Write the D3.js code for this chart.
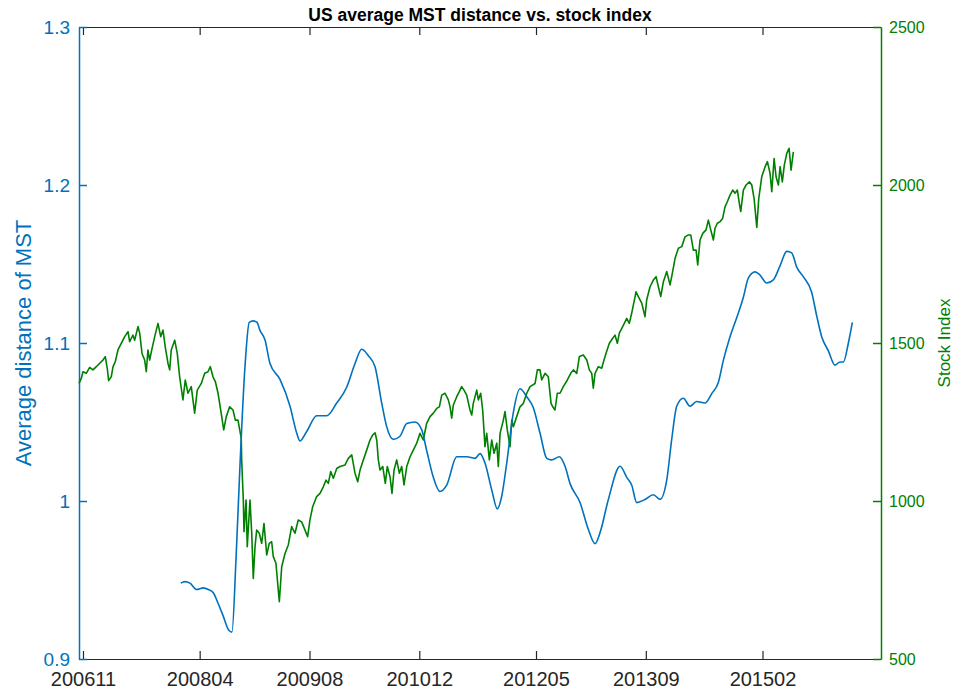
<!DOCTYPE html>
<html>
<head>
<meta charset="utf-8">
<script src="https://cdn.jsdelivr.net/npm/d3@7"></script>
<style>
  body { margin: 0; background: #fff; }
  svg text { font-family: "Liberation Sans", Arial, Helvetica, sans-serif; }
</style>
</head>
<body>
<svg id="chart"></svg>
<script>
// =====================================================
// Data (x in decimal years)
// =====================================================
const xTickLabels = ["200611", "200804", "200908", "201012", "201205", "201309", "201502"];
const leftTicks   = [0.9, 1.0, 1.1, 1.2, 1.3];
const rightTicks  = [500, 1000, 1500, 2000, 2500];

const stockDates = [
  // 2006-11 .. 2008-09
  2006.785, 2006.813, 2006.833, 2006.873, 2006.915, 2006.955, 2006.995, 2007.036, 2007.076, 2007.104,
  2007.128, 2007.145, 2007.177, 2007.198, 2007.226, 2007.258, 2007.298, 2007.340, 2007.380, 2007.400,
  2007.440, 2007.461, 2007.501, 2007.522, 2007.550, 2007.582, 2007.602, 2007.622, 2007.643, 2007.663,
  2007.704, 2007.744, 2007.777, 2007.805, 2007.832, 2007.865, 2007.886, 2007.905, 2007.947, 2007.978,
  2008.007, 2008.047, 2008.075, 2008.108, 2008.148, 2008.189, 2008.221, 2008.270, 2008.311, 2008.351,
  2008.379, 2008.412, 2008.440, 2008.473, 2008.505, 2008.542, 2008.573, 2008.614, 2008.655, 2008.683,
  2008.715, 2008.755,
  // 2008-10 .. 2011-11
  2008.760, 2008.780, 2008.788, 2008.813, 2008.828, 2008.861, 2008.882, 2008.901, 2008.922, 2008.942,
  2008.974, 2009.003, 2009.031, 2009.064, 2009.095, 2009.124, 2009.144, 2009.176, 2009.217, 2009.246,
  2009.286, 2009.326, 2009.367, 2009.407, 2009.447, 2009.488, 2009.529, 2009.561, 2009.589, 2009.622,
  2009.670, 2009.711, 2009.751, 2009.784, 2009.812, 2009.841, 2009.873, 2009.914, 2009.954, 2010.015,
  2010.055, 2010.096, 2010.136, 2010.169, 2010.197, 2010.237, 2010.278, 2010.318, 2010.351, 2010.379,
  2010.400, 2010.419, 2010.440, 2010.473, 2010.504, 2010.528, 2010.561, 2010.585, 2010.610, 2010.642,
  2010.674, 2010.703, 2010.731, 2010.764, 2010.804, 2010.844, 2010.885, 2010.925, 2010.965, 2011.006,
  2011.047, 2011.087, 2011.128, 2011.160, 2011.189, 2011.229, 2011.269, 2011.290, 2011.310, 2011.330,
  2011.371, 2011.402, 2011.431, 2011.459, 2011.492, 2011.532, 2011.553, 2011.572, 2011.614, 2011.633,
  2011.662, 2011.686, 2011.714, 2011.735, 2011.767, 2011.796, 2011.824, 2011.857, 2011.876,
  // 2011-11 .. 2015-06
  2011.897, 2011.937, 2011.957, 2011.985, 2012.018, 2012.039, 2012.058, 2012.099, 2012.139, 2012.180,
  2012.221, 2012.261, 2012.322, 2012.350, 2012.382, 2012.403, 2012.443, 2012.483, 2012.516, 2012.537,
  2012.564, 2012.592, 2012.625, 2012.665, 2012.714, 2012.755, 2012.787, 2012.828, 2012.860, 2012.908,
  2012.950, 2012.981, 2013.010, 2013.029, 2013.050, 2013.090, 2013.131, 2013.159, 2013.183, 2013.224,
  2013.265, 2013.293, 2013.321, 2013.345, 2013.386, 2013.435, 2013.466, 2013.495, 2013.548, 2013.576,
  2013.617, 2013.657, 2013.677, 2013.718, 2013.758, 2013.791, 2013.819, 2013.848, 2013.880, 2013.921,
  2013.961, 2013.989, 2014.022, 2014.062, 2014.103, 2014.143, 2014.183, 2014.212, 2014.244, 2014.277,
  2014.297, 2014.325, 2014.358, 2014.398, 2014.426, 2014.455, 2014.487, 2014.507, 2014.535, 2014.568,
  2014.600, 2014.628, 2014.656, 2014.689, 2014.722, 2014.750, 2014.778, 2014.802, 2014.819, 2014.851,
  2014.884, 2014.924, 2014.953, 2014.981, 2015.014, 2015.038, 2015.074, 2015.115, 2015.143, 2015.175,
  2015.196, 2015.224, 2015.248, 2015.276, 2015.297, 2015.324, 2015.348, 2015.378, 2015.406, 2015.430,
  2015.458
];
const stockValues = [
  1372, 1388, 1409, 1404, 1423, 1415, 1425, 1436, 1446, 1457,
  1420, 1381, 1393, 1425, 1441, 1478, 1499, 1520, 1536, 1504,
  1525, 1509, 1552, 1531, 1467, 1446, 1409, 1478, 1446, 1472,
  1520, 1562, 1520, 1541, 1488, 1436, 1415, 1478, 1509, 1467,
  1393, 1320, 1383, 1341, 1362, 1278, 1351, 1372, 1404, 1409,
  1425, 1393, 1378, 1341, 1288, 1225, 1267, 1298, 1288, 1256,
  1256, 1198,

  1130, 1003, 903, 1003, 855, 1003, 898, 755, 855, 908,
  898, 866, 929, 829, 866, 871, 824, 803, 681, 792,
  834, 861, 919, 898, 940, 934, 908, 887, 940, 982,
  1014, 1024, 1045, 1066, 1056, 1093, 1072, 1103, 1109, 1114,
  1135, 1146, 1088, 1061, 1098, 1130, 1161, 1193, 1209, 1216,
  1193, 1130, 1098, 1109, 1056, 1109, 1077, 1024, 1098, 1130,
  1088, 1109, 1051, 1109, 1140, 1161, 1183, 1214, 1193, 1246,
  1267, 1278, 1293, 1298, 1335, 1341, 1320, 1298, 1262, 1304,
  1330, 1346, 1362, 1351, 1335, 1288, 1272, 1309, 1351, 1320,
  1341, 1288, 1172, 1214, 1130, 1193, 1151, 1183, 1109,

  1214, 1256, 1283, 1225, 1172, 1256, 1235, 1267, 1298, 1309,
  1341, 1362, 1372, 1415, 1415, 1383, 1404, 1393, 1309, 1298,
  1288, 1341, 1341, 1362, 1383, 1404, 1415, 1404, 1457, 1462,
  1446, 1415, 1404, 1357, 1404, 1425, 1420, 1446, 1467, 1499,
  1515, 1525, 1499, 1531, 1552, 1578, 1562, 1594, 1662, 1647,
  1626, 1583, 1636, 1678, 1699, 1710, 1678, 1647, 1694, 1726,
  1684, 1721, 1768, 1800, 1805, 1836, 1842, 1842, 1794, 1794,
  1747, 1826, 1847, 1858, 1889, 1858, 1826, 1863, 1879, 1884,
  1895, 1931, 1947, 1968, 1984, 1974, 1984, 1942, 1916, 1984,
  2000, 2010, 2000, 1958, 1866, 1958, 2026, 2058, 2074, 2037,
  1979, 2084, 2026, 2000, 2058, 2010, 2063, 2100, 2116, 2047,
  2105
];

const mstDates = [
  2008.020, 2008.072, 2008.132, 2008.214, 2008.294, 2008.355, 2008.415, 2008.476, 2008.537, 2008.606,
  2008.642, 2008.691, 2008.739, 2008.800, 2008.852, 2008.901, 2008.946, 2008.982, 2009.043, 2009.104,
  2009.225, 2009.347, 2009.428, 2009.468, 2009.549, 2009.671, 2009.792, 2009.914, 2010.035, 2010.136,
  2010.217, 2010.297, 2010.379, 2010.460, 2010.521, 2010.601, 2010.682, 2010.764, 2010.864, 2010.946,
  2011.006, 2011.087, 2011.168, 2011.249, 2011.371, 2011.492, 2011.593, 2011.654, 2011.714, 2011.796,
  2011.864, 2011.917, 2011.978, 2012.058, 2012.139, 2012.221, 2012.301, 2012.382, 2012.464, 2012.524,
  2012.616, 2012.686, 2012.747, 2012.868, 2012.969, 2013.050, 2013.111, 2013.212, 2013.354, 2013.435,
  2013.496, 2013.556, 2013.657, 2013.758, 2013.839, 2013.920, 2013.981, 2014.042, 2014.122, 2014.203,
  2014.284, 2014.386, 2014.467, 2014.547, 2014.608, 2014.689, 2014.770, 2014.851, 2014.911, 2014.993,
  2015.053, 2015.134, 2015.215, 2015.297, 2015.378, 2015.438, 2015.499, 2015.579, 2015.681, 2015.742,
  2015.802, 2015.883, 2015.964, 2016.025, 2016.065, 2016.126, 2016.174
];
const mstValues = [
  0.948, 0.949, 0.948, 0.944, 0.945, 0.944, 0.942, 0.935, 0.927, 0.918,
  0.917, 0.963, 1.022, 1.085, 1.113, 1.114, 1.113, 1.108, 1.102, 1.087,
  1.077, 1.060, 1.043, 1.038, 1.044, 1.054, 1.054, 1.062, 1.072, 1.087,
  1.096, 1.092, 1.085, 1.062, 1.047, 1.039, 1.041, 1.049, 1.050, 1.045,
  1.032, 1.015, 1.006, 1.010, 1.028, 1.028, 1.027, 1.030, 1.024, 1.007,
  0.995, 1.003, 1.024, 1.056, 1.071, 1.066, 1.059, 1.043, 1.027, 1.026,
  1.028, 1.022, 1.011, 0.999, 0.982, 0.973, 0.980, 1.001, 1.022, 1.015,
  1.010, 0.999, 1.001, 1.004, 1.001, 1.013, 1.039, 1.060, 1.065, 1.060,
  1.063, 1.062, 1.068, 1.075, 1.089, 1.104, 1.116, 1.129, 1.141, 1.145,
  1.143, 1.138, 1.140, 1.149, 1.158, 1.157, 1.148, 1.142, 1.132, 1.117,
  1.104, 1.095, 1.086, 1.088, 1.088, 1.100, 1.113
];

// =====================================================
// Layout
// =====================================================
const W = 965, H = 692;
const margin = { top: 27, right: 84, bottom: 33, left: 79 };
const width  = W - margin.left - margin.right;
const height = H - margin.top - margin.bottom;

const blue  = "#0072BD";
const green = "#008000";
const dark  = "#262626";

const svg = d3.select("#chart")
  .attr("width", W)
  .attr("height", H);

const g = svg.append("g")
  .attr("transform", `translate(${margin.left}, ${margin.top})`);

// ----------
// Scales
// =================
const tickValue = s => +s.slice(0, 4) + (+s.slice(4) - 1) / 12;

const x = d3.scaleLinear()
  .domain([2006.785, 2016.522])
  .range([0, width]);

const yL = d3.scaleLinear().domain([0.9, 1.3]).range([height, 0]);
const yR = d3.scaleLinear().domain([500, 2500]).range([height, 0]);

// ----------
// Axes
// =================
const topAxis = g.append("g")
  .call(d3.axisTop(x)
    .tickValues(xTickLabels.map(tickValue))
    .tickFormat("")
    .tickSizeInner(-8)
    .tickSizeOuter(0));
topAxis.selectAll("path, line").attr("stroke", dark).attr("stroke-width", 1.2);

const bottomAxis = g.append("g")
  .attr("transform", `translate(0, ${height})`)
  .call(d3.axisBottom(x)
    .tickValues(xTickLabels.map(tickValue))
    .tickFormat((d, i) => xTickLabels[i])
    .tickSizeInner(-8)
    .tickSizeOuter(0)
    .tickPadding(13));
bottomAxis.selectAll("path, line").attr("stroke", dark).attr("stroke-width", 1.2);
bottomAxis.selectAll("text").attr("fill", dark).style("font-size", "20px");

const leftAxis = g.append("g")
  .call(d3.axisLeft(yL)
    .tickValues(leftTicks)
    .tickFormat(d3.format("~g"))
    .tickSizeInner(-8)
    .tickSizeOuter(0)
    .tickPadding(9));
leftAxis.selectAll("path, line").attr("stroke", blue).attr("stroke-width", 1.5);
leftAxis.selectAll("text").attr("fill", blue).style("font-size", "19px");

const rightAxis = g.append("g")
  .attr("transform", `translate(${width}, 0)`)
  .call(d3.axisRight(yR)
    .tickValues(rightTicks)
    .tickFormat(d3.format("d"))
    .tickSizeInner(-8)
    .tickSizeOuter(0)
    .tickPadding(8));
rightAxis.selectAll("path, line").attr("stroke", green).attr("stroke-width", 1.5);
rightAxis.selectAll("text").attr("fill", green).style("font-size", "16px");

svg.selectAll(".domain").attr("fill", "none");

// ----------
// Lines
// =================
const stock = stockDates.map((d, i) => ({ t: d, v: stockValues[i] }));
const mst   = mstDates.map((d, i) => ({ t: d, v: mstValues[i] }));

g.append("path")
  .datum(stock)
  .attr("fill", "none")
  .attr("stroke", green)
  .attr("stroke-width", 1.6)
  .attr("stroke-linejoin", "round")
  .attr("d", d3.line().x(d => x(d.t)).y(d => yR(d.v)));

g.append("path")
  .datum(mst)
  .attr("fill", "none")
  .attr("stroke", blue)
  .attr("stroke-width", 1.6)
  .attr("d", d3.line().curve(d3.curveMonotoneX).x(d => x(d.t)).y(d => yL(d.v)));

// ----------
// Labels
// =================
svg.append("text")
  .attr("x", margin.left + width / 2)
  .attr("y", 21)
  .attr("text-anchor", "middle")
  .attr("fill", "#000")
  .style("font-size", "17.5px")
  .style("font-weight", "bold")
  .text("US average MST distance vs. stock index");

svg.append("text")
  .attr("transform", `translate(31, ${margin.top + height / 2}) rotate(-90)`)
  .attr("text-anchor", "middle")
  .attr("fill", blue)
  .style("font-size", "22px")
  .text("Average distance of MST");

svg.append("text")
  .attr("transform", `translate(950, ${margin.top + height / 2}) rotate(-90)`)
  .attr("text-anchor", "middle")
  .attr("fill", green)
  .style("font-size", "17px")
  .text("Stock Index");
</script>
</body>
</html>
